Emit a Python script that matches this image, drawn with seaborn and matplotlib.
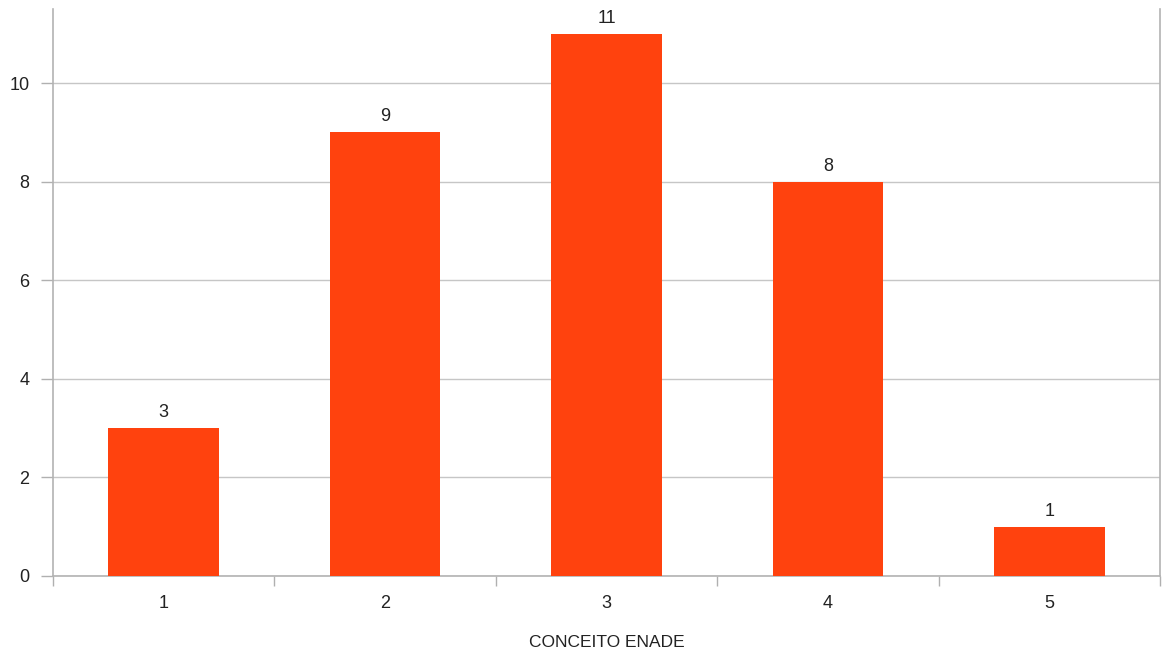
import matplotlib
matplotlib.use("Agg")
import matplotlib.pyplot as plt
import seaborn as sns
import pandas as pd
import numpy as np

# Conceito ENADE data
categories = ["1", "2", "3", "4", "5"]
counts = [3, 9, 11, 8, 1]
y_ticks = [0, 2, 4, 6, 8, 10]

df = pd.DataFrame({"conceito": categories, "count": counts})

sns.set_style("white")
plt.rcParams["font.family"] = ["Liberation Sans", "DejaVu Sans"]

fig = plt.figure(figsize=(11.7, 6.53), dpi=100)
ax = fig.add_axes([0.0453, 0.118, 0.9462, 0.868])

sns.barplot(data=df, x="conceito", y="count", color="#FF420E", width=0.5,
            saturation=1, linewidth=0, ax=ax, zorder=3)

# labels on top of bars
ax.bar_label(ax.containers[0], fmt="%d", padding=5, fontsize=13, color="#222222")

ax.set_xlim(-0.5, len(categories) - 0.5)
ax.set_ylim(0, 11.5)
ax.set_yticks(y_ticks)
ax.yaxis.grid(True, color="#c6c6c6", linewidth=1.0, zorder=0)
ax.set_axisbelow(True)

# ticks between categories on the x axis
ax.set_xticks(np.arange(len(categories) + 1) - 0.5, minor=True)
ax.tick_params(axis="x", which="major", bottom=False, length=0, pad=14, labelsize=13, labelcolor="#222222")
ax.tick_params(axis="x", which="minor", bottom=True, length=7, width=1, color="#b0b0b0", direction="out")
ax.tick_params(axis="y", left=True, length=9, width=1, color="#b0b0b0", pad=8, labelsize=13, labelcolor="#222222")

for side in ["left", "bottom", "right"]:
    ax.spines[side].set_visible(True)
    ax.spines[side].set_color("#b3b3b3")
    ax.spines[side].set_linewidth(1.2)
ax.spines["top"].set_visible(False)

ax.set_xlabel("CONCEITO ENADE", fontsize=12.5, color="#222222", labelpad=16)
ax.set_ylabel("")

fig.savefig("out.png", dpi=100)
